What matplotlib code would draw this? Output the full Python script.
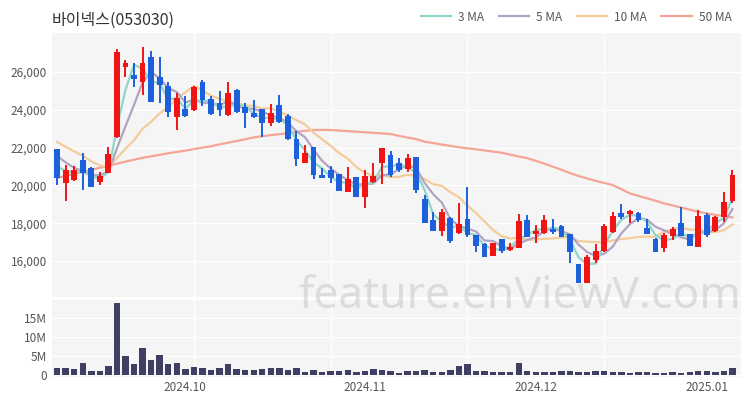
import pandas as pd
import matplotlib.pyplot as plt
from matplotlib.lines import Line2D
from matplotlib.ticker import FuncFormatter

plt.rcParams['font.family'] = ['Noto Sans CJK KR', 'DejaVu Sans']

# OHLC (one candle per trading day)
opens = [21900, 20130, 20290, 21340, 20940, 20200, 20670, 22550, 26250, 25840,
         25490, 26780, 25750, 25260, 23600, 24030, 23990, 25490, 24560, 24380,
         23730, 25050, 24130, 23850, 24040, 23290, 24250, 23670, 22440, 21200,
         22050, 20550, 20820, 20600, 19670, 20460, 19400, 20200, 21200, 21610,
         21200, 20850, 21520, 19270, 18170, 17600, 18260, 17470, 18210, 17380,
         16900, 16270, 17150, 16580, 16670, 18170, 17430, 17470, 17680, 17850,
         17430, 15840, 14850, 16050, 16550, 17550, 18560, 18490, 18520, 17730,
         17150, 16670, 17320, 18000, 17430, 16740, 18430, 17600, 18310, 19190]
highs = [21900, 21080, 21030, 21730, 21000, 20730, 22020, 27200, 26640, 26490,
         27310, 27130, 26780, 25490, 24900, 24730, 25240, 25580, 24730, 25000,
         25490, 25100, 24340, 24520, 24040, 24310, 24780, 23780, 22890, 22140,
         22050, 20900, 21030, 20600, 20990, 20460, 20820, 21200, 21960, 21840,
         21430, 21660, 21520, 19490, 18610, 18740, 18310, 19090, 19900, 17380,
         16950, 16950, 17150, 16970, 18490, 18430, 17910, 18430, 18210, 17900,
         17430, 15840, 16320, 16900, 17960, 18610, 19020, 18700, 18610, 18210,
         17200, 17470, 17780, 18840, 17430, 18700, 18560, 18380, 19670, 20820]
lows = [20020, 19190, 20230, 19760, 19930, 20020, 20640, 22490, 25750, 25220,
        24780, 24430, 24380, 23600, 22930, 23600, 23950, 24200, 23710, 23670,
        23670, 23830, 23020, 23550, 22550, 23160, 23320, 22400, 21030, 21170,
        20320, 20410, 20110, 19720, 19670, 19400, 18790, 20110, 20070, 20460,
        20730, 20730, 19610, 18030, 17600, 17320, 16970, 17430, 17250, 16490,
        16200, 16270, 16410, 16550, 16670, 17250, 16970, 17430, 17430, 17250,
        15910, 14820, 14850, 15880, 16490, 17470, 18210, 18030, 18080, 17430,
        16490, 16490, 17110, 17320, 16790, 16740, 17250, 17550, 18080, 19090]
closes = [20390, 20815, 20815, 20660, 19930, 20510, 21660, 27070, 26460, 25610,
          26460, 24430, 25310, 23900, 24610, 23670, 25190, 24520, 23780, 23990,
          24870, 23900, 23850, 23600, 23290, 23820, 23370, 22440, 21380, 21730,
          20550, 20410, 20380, 19720, 20340, 19400, 20510, 20500, 21960, 20550,
          20820, 21470, 19760, 18030, 17600, 18610, 17070, 17960, 17380, 16790,
          16230, 16940, 16550, 16760, 18130, 17250, 17590, 18170, 17550, 17290,
          16490, 14820, 16230, 16550, 17850, 18380, 18310, 18660, 18170, 17430,
          16490, 17380, 17680, 17320, 16790, 18380, 17380, 18310, 19140, 20550]
# closes before the window, estimated from where the MA lines start
prior_closes = [23400, 23200, 23000, 22900, 22720, 22500, 22280, 21500, 21100]

volumes_m = [1.75, 1.8, 1.6, 3.2, 1.2, 1.2, 2.4, 18.9, 5.0, 2.9,
             7.0, 3.9, 5.4, 2.8, 3.2, 1.5, 2.2, 1.75, 1.3, 1.9,
             2.8, 1.6, 1.4, 1.3, 1.6, 1.8, 1.75, 1.4, 1.9, 0.9,
             1.3, 0.7, 1.1, 1.1, 1.3, 0.8, 1.0, 1.6, 1.3, 1.05,
             0.6, 1.1, 1.2, 1.4, 0.7, 0.8, 1.3, 2.4, 2.9, 1.1,
             1.0, 0.9, 0.7, 0.7, 3.1, 1.2, 0.7, 0.9, 0.7, 1.05,
             1.2, 0.9, 0.7, 1.0, 1.2, 0.8, 0.7, 0.6, 0.7, 0.9,
             0.6, 0.5, 0.7, 0.6, 0.8, 1.2, 1.0, 0.9, 1.2, 1.9]

# 50 MA
ma50 = [20390, 20500, 20610, 20720, 20830, 20930, 21030, 21150, 21260, 21360,
        21460, 21540, 21620, 21700, 21770, 21840, 21920, 22000, 22070, 22170,
        22260, 22350, 22440, 22540, 22600, 22660, 22710, 22760, 22830, 22890,
        22930, 22940, 22930, 22900, 22870, 22840, 22810, 22780, 22750, 22720,
        22620, 22530, 22450, 22310, 22240, 22160, 22090, 22020, 21960, 21910,
        21850, 21790, 21730, 21630, 21530, 21440, 21300, 21150, 20990, 20830,
        20650, 20500, 20370, 20240, 20130, 20020, 19800, 19580, 19450, 19320,
        19190, 19050, 18940, 18830, 18720, 18610, 18520, 18440, 18380, 18310]

month_pos = [15, 36, 56, 76]
month_labels = ['2024.10', '2024.11', '2024.12', '2025.01']
grid_pos = [16, 32, 48, 64]

n = len(closes)
xs = list(range(n))
all_closes = pd.Series(prior_closes + closes)
k = len(prior_closes)
ma3 = all_closes.rolling(3).mean().iloc[k:].values
ma5 = all_closes.rolling(5).mean().iloc[k:].values
ma10 = all_closes.rolling(10).mean().iloc[k:].values

UP = '#f01414'
DOWN = '#1c60dc'
BG = '#f5f5f5'
TXT = '#555555'
ma_colors = {'3 MA': '#8ed6cb', '5 MA': '#b3a3c3', '10 MA': '#f3cc9a', '50 MA': '#f5a596'}

fig = plt.figure(figsize=(7.5, 4), dpi=100)
ax = fig.add_axes([0.0693, 0.2575, 0.9187, 0.66])
axv = fig.add_axes([0.0693, 0.0575, 0.9187, 0.1925])

for a in (ax, axv):
    a.set_facecolor(BG)
    for s in a.spines.values():
        s.set_visible(False)
    a.set_xlim(-0.6, 80.0)
    a.set_xticks(grid_pos, minor=True)
    a.grid(True, which='minor', axis='x', color='white', lw=1.0)
    a.grid(True, which='major', axis='y', color='white', lw=1.0)
    a.tick_params(which='both', length=0, labelsize=8.5, labelcolor=TXT)
    a.set_axisbelow(True)

# moving averages
ax.plot(xs, ma50, color=ma_colors['50 MA'], lw=1.6, zorder=2)
ax.plot(xs, ma10, color=ma_colors['10 MA'], lw=1.6, zorder=2)
ax.plot(xs, ma5, color=ma_colors['5 MA'], lw=1.6, zorder=2)
ax.plot(xs, ma3, color=ma_colors['3 MA'], lw=1.6, zorder=2)

# candles
for i in xs:
    o, h, l, c = opens[i], highs[i], lows[i], closes[i]
    col = UP if c >= o else DOWN
    ax.vlines(i, l, h, color=col, lw=1.4, zorder=3)
    body = max(abs(c - o), 60)
    ax.bar(i, body, bottom=min(o, c), width=0.68, color=col, zorder=4)

ax.set_ylim(14100, 28060)
ax.set_yticks([16000, 18000, 20000, 22000, 24000, 26000])
ax.yaxis.set_major_formatter(FuncFormatter(lambda v, p: f'{int(v):,}'))
ax.set_xticks([])

# volume
axv.bar(xs, [v * 1e6 for v in volumes_m], width=0.75, color='#3f3f64', zorder=3)
axv.set_ylim(-0.5e6, 19.7e6)
axv.set_yticks([0, 5e6, 10e6, 15e6])
axv.yaxis.set_major_formatter(FuncFormatter(lambda v, p: '0' if v == 0 else f'{int(v / 1e6)}M'))
axv.set_xticks(month_pos)
axv.set_xticklabels(month_labels)
axv.tick_params(axis='x', pad=3)

fig.text(0.069, 0.948, '바이넥스(053030)', fontsize=11.5, color='#333333', va='center', ha='left')

handles = [Line2D([0], [0], color=c, lw=1.6) for c in ma_colors.values()]
fig.legend(handles, list(ma_colors.keys()), loc='upper right', bbox_to_anchor=(0.99, 1.0),
           ncol=4, frameon=False, fontsize=8.5, labelcolor=TXT, handlelength=2.6,
           columnspacing=1.2, handletextpad=0.6)

fig.text(0.693, 0.257, 'feature.enViewV.com', fontsize=32, color='#bdbdbd', alpha=0.45,
         ha='center', va='center', family=['Noto Sans', 'DejaVu Sans'], zorder=10)

fig.savefig('out.png', dpi=100)
